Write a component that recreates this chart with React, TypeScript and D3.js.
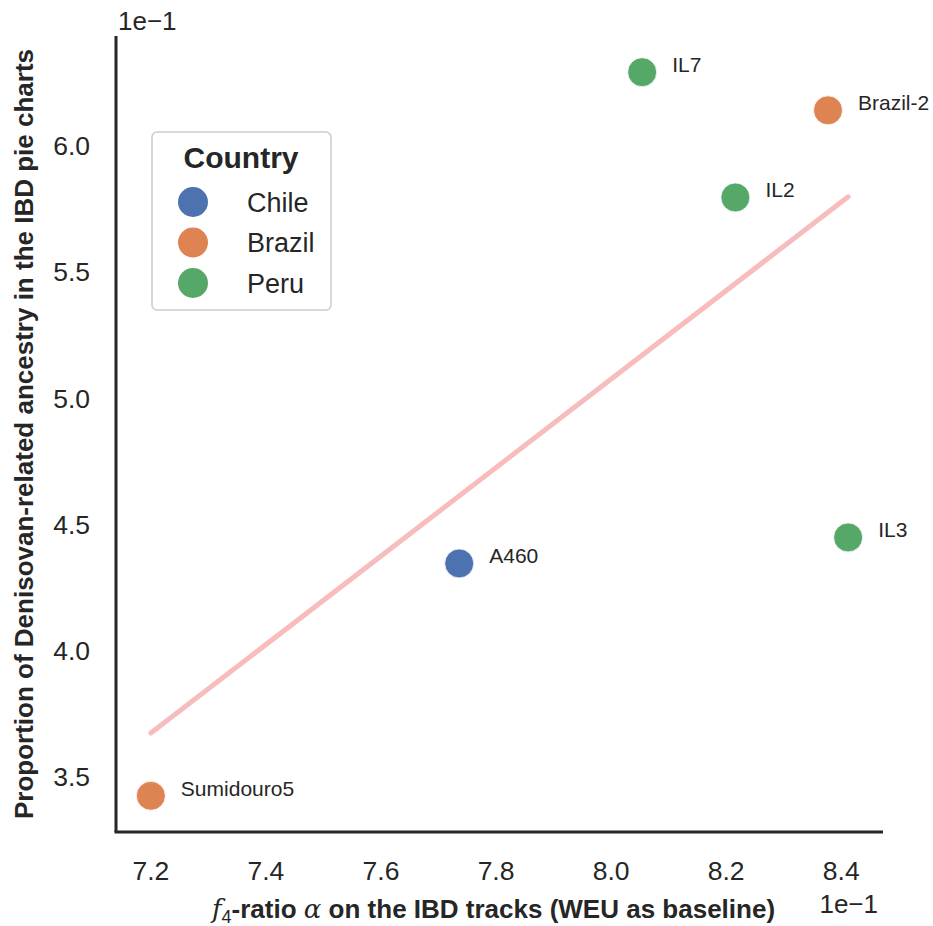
import React from "react";
import * as d3 from "d3";

// Samples, their country and the two Denisovan-ancestry measures
const samples = ["Sumidouro5", "A460", "IL7", "Brazil-2", "IL2", "IL3"];
const countries = ["Brazil", "Chile", "Peru", "Brazil", "Peru", "Peru"];
const f4Ratio = [0.72, 0.7736, 0.8054, 0.8377, 0.8216, 0.8412];
const ibdProportion = [0.3425, 0.4345, 0.629, 0.6139, 0.5794, 0.4448];

const legendCountries = ["Chile", "Brazil", "Peru"];
const countryColors = ["#4c72b0", "#dd8452", "#55a868"];

const xTicks = [0.72, 0.74, 0.76, 0.78, 0.8, 0.82, 0.84];
const yTicks = [0.35, 0.4, 0.45, 0.5, 0.55, 0.6];

const W = 933;
const H = 926;
const left = 116;
const right = 883;
const top = 36;
const bottom = 832;
const ink = "#262626";
const font = "'Liberation Sans', Arial, Helvetica, sans-serif";

// matplotlib-style 5% autoscale margins around the data
function padded(values: number[]): [number, number] {
  const [lo, hi] = d3.extent(values) as [number, number];
  const m = (hi - lo) * 0.05;
  return [lo - m, hi + m];
}

export default function App() {
  const x = d3.scaleLinear().domain(padded(f4Ratio)).range([left, right]);
  const y = d3.scaleLinear().domain(padded(ibdProportion)).range([bottom, top]);
  const color = d3.scaleOrdinal<string, string>().domain(legendCountries).range(countryColors);

  // ordinary least squares fit
  const mx = d3.mean(f4Ratio) as number;
  const my = d3.mean(ibdProportion) as number;
  const sxy = d3.sum(f4Ratio, (v, i) => (v - mx) * (ibdProportion[i] - my));
  const sxx = d3.sum(f4Ratio, (v) => (v - mx) * (v - mx));
  const slope = sxy / sxx;
  const intercept = my - slope * mx;
  const [x0, x1] = d3.extent(f4Ratio) as [number, number];
  const fit: [number, number][] = [x0, x1].map((v) => [v, intercept + slope * v]);
  const fitPath = d3
    .line<[number, number]>()
    .x((d) => x(d[0]))
    .y((d) => y(d[1]))(fit) as string;

  const fmt = (v: number) => (v * 10).toFixed(1);

  return (
    <svg
      width={W}
      height={H}
      viewBox={`0 0 ${W} ${H}`}
      style={{ position: "absolute", left: 0, top: 0, background: "#fff" }}
      fontFamily={font}
    >
      <rect width={W} height={H} fill="#fff" />

      {/* regression line */}
      <path d={fitPath} stroke="#f9bcbc" strokeWidth={5} strokeLinecap="round" fill="none" />

      {/* points */}
      {samples.map((s, i) => (
        <g key={s}>
          <circle
            cx={x(f4Ratio[i])}
            cy={y(ibdProportion[i])}
            r={14.5}
            fill={color(countries[i])}
            stroke="#fff"
            strokeWidth={0.8}
          />
          <text x={x(f4Ratio[i]) + 30} y={y(ibdProportion[i])} fontSize={21} fill={ink}>
            {s}
          </text>
        </g>
      ))}

      {/* spines */}
      <line x1={left} x2={left} y1={top} y2={bottom} stroke={ink} strokeWidth={3} />
      <line x1={left - 1.5} x2={right} y1={bottom} y2={bottom} stroke={ink} strokeWidth={3} />

      {/* x tick labels */}
      {xTicks.map((t) => (
        <text key={t} x={x(t)} y={880} textAnchor="middle" fontSize={26.5} fill={ink}>
          {fmt(t)}
        </text>
      ))}
      {/* y tick labels */}
      {yTicks.map((t) => (
        <text key={t} x={90} y={y(t)} dy="0.36em" textAnchor="end" fontSize={26.5} fill={ink}>
          {fmt(t)}
        </text>
      ))}

      {/* offset texts */}
      <text x={118} y={30} fontSize={26} fill={ink}>
        1e−1
      </text>
      <text x={878} y={913} textAnchor="end" fontSize={26} fill={ink}>
        1e−1
      </text>

      {/* axis labels */}
      <text x={(left + right) / 2 - 6} y={918} textAnchor="middle" fontSize={26} fill={ink}>
        <tspan fontFamily="'DejaVu Serif', serif" fontStyle="italic">
          f
        </tspan>
        <tspan fontSize={18} dy={5}>
          4
        </tspan>
        <tspan dy={-5} fontWeight="bold">
          -ratio{" "}
        </tspan>
        <tspan fontFamily="'DejaVu Serif', serif" fontStyle="italic">
          α
        </tspan>
        <tspan fontWeight="bold"> on the IBD tracks (WEU as baseline)</tspan>
      </text>
      <text
        transform={`translate(33,${(top + bottom) / 2}) rotate(-90)`}
        textAnchor="middle"
        fontSize={26}
        fontWeight="bold"
        fill={ink}
      >
        Proportion of Denisovan-related ancestry in the IBD pie charts
      </text>

      {/* legend */}
      <g>
        <rect x={152} y={132} width={179} height={178} rx={5} fill="#fff" stroke="#cccccc" strokeWidth={1.5} />
        <text x={241} y={168} textAnchor="middle" fontSize={30} fontWeight="bold" fill={ink}>
          Country
        </text>
        {legendCountries.map((c, i) => (
          <g key={c}>
            <circle cx={193} cy={202 + i * 40.5} r={15} fill={color(c)} />
            <text x={247} y={202 + i * 40.5 + 9.5} fontSize={27} fill={ink}>
              {c}
            </text>
          </g>
        ))}
      </g>
    </svg>
  );
}
